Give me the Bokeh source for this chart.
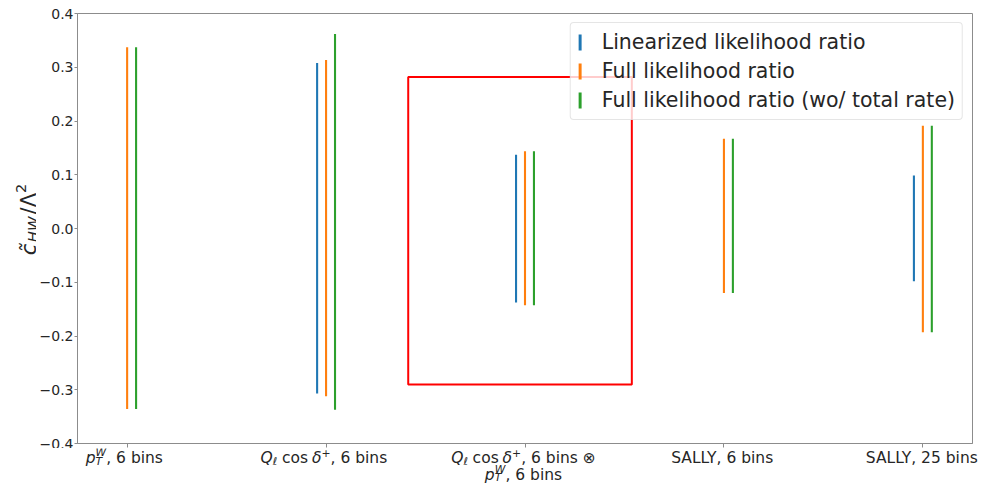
import math
import numpy as np
from bokeh.plotting import figure
from bokeh.layouts import row, column
from bokeh.models import (ColumnDataSource, FixedTicker, Legend, LegendItem,
                          BoxAnnotation, Range1d)
from bokeh.core.properties import value
from bokeh.embed import file_html
from bokeh.resources import INLINE

# ---------------- data ----------------
cat_pos = [0, 1, 2, 3, 4]
series_names = ["Linearized likelihood ratio", "Full likelihood ratio",
                "Full likelihood ratio (wo/ total rate)"]
series_colors = ["#1f77b4", "#ff7f0e", "#2ca02c"]
series_offsets = [-0.045, 0.0, 0.045]

lin_lo = [np.nan, -0.307, -0.1375, np.nan, -0.098]
lin_hi = [np.nan, 0.308, 0.137, np.nan, 0.0985]
full_lo = [-0.336, -0.312, -0.143, -0.120, -0.193]
full_hi = [0.337, 0.3135, 0.1437, 0.167, 0.191]
wo_lo = [-0.336, -0.337, -0.143, -0.120, -0.193]
wo_hi = [0.337, 0.362, 0.1437, 0.167, 0.191]

y_ticks = [-0.4, -0.3, -0.2, -0.1, 0.0, 0.1, 0.2, 0.3, 0.4]
y_tick_labels = ["\u22120.4", "\u22120.3", "\u22120.2", "\u22120.1", "0.0", "0.1", "0.2", "0.3", "0.4"]

# tick label pieces: ("t", text, style), ("sub", text, style), ("sup", text, style),
# ("supsub", sup, sub, style), ("gap", em)
ptw = [("t", "p", "italic"), ("supsub", "W", "T", "italic")]
qcos = [("t", "Q", "italic"), ("sub", "\u2113", "italic"), ("gap", 0.3), ("t", "cos", "normal"),
        ("gap", 0.25), ("t", "\u03b4", "italic"), ("sup", "+", "normal")]
xtick_lines = [
    [ptw + [("t", ", 6 bins", "normal")]],
    [qcos + [("t", ", 6 bins", "normal")]],
    [qcos + [("t", ", 6 bins \u2297", "normal")], ptw + [("t", ", 6 bins", "normal")]],
    [[("t", "SALLY, 6 bins", "normal")]],
    [[("t", "SALLY, 25 bins", "normal")]],
]
ylabel_pieces = [("t", "c\u0303", "italic"), ("gap", 0.08), ("sub", "HW", "italic"), ("gap", 0.1),
                 ("t", "/\u039b", "normal"), ("sup", "2", "normal")]

# highlight box (data coordinates)
hl_left, hl_right, hl_top, hl_bottom = 1.413, 2.537, 0.282, -0.290

# ---------------- geometry ----------------
W_TOTAL, H_TOTAL = 988, 484
YLAB_W = 36          # strip holding the rotated y label
MAIN_BL, MAIN_BR, MAIN_BT, MAIN_BB = 38, 16, 13, 5
MAIN_W = W_TOTAL - YLAB_W
MAIN_H = 448
FRAME_H = MAIN_H - MAIN_BT - MAIN_BB
FRAME_W = MAIN_W - MAIN_BL - MAIN_BR
BOT_H = H_TOTAL - MAIN_H

FONT = "DejaVu Sans"
TXT = "#262626"
SPINE = "#8c8c8c"

x_range = Range1d(-0.2495, 4.2495)
y_range = Range1d(-0.4, 0.4)


def no_align(fig):
    try:
        fig.frame_align = False
        return True
    except Exception:
        return False


p = figure(width=MAIN_W, height=MAIN_H, output_backend="svg", toolbar_location=None,
           x_range=x_range, y_range=y_range,
           min_border_left=MAIN_BL, min_border_right=MAIN_BR,
           min_border_top=MAIN_BT, min_border_bottom=MAIN_BB)
p.title.visible = False
p.xgrid.visible = False
p.ygrid.visible = False
p.outline_line_color = SPINE
p.outline_line_width = 1
p.background_fill_color = "white"
p.border_fill_color = "white"

for ax in (p.xaxis, p.yaxis):
    ax.axis_line_color = SPINE
    ax.major_tick_line_color = SPINE
    ax.major_tick_out = 4
    ax.major_tick_in = 0
    ax.minor_tick_out = 0
    ax.minor_tick_in = 0
    ax.major_label_text_font = FONT
    ax.major_label_text_color = TXT

p.yaxis.ticker = FixedTicker(ticks=y_ticks)
p.yaxis.major_label_overrides = {t: l for t, l in zip(y_ticks, y_tick_labels)}
p.yaxis.major_label_standoff = 1
p.yaxis.major_tick_out = 3
p.yaxis.major_label_text_font_size = "14px"
p.xaxis.ticker = FixedTicker(ticks=cat_pos)
p.xaxis.major_label_overrides = {c: "" for c in cat_pos}
p.xaxis.major_label_text_font_size = "0px"
p.xaxis.major_label_standoff = 0

# ---------------- bars ----------------
renderers = []
for lo, hi, col, off in zip([lin_lo, full_lo, wo_lo], [lin_hi, full_hi, wo_hi],
                            series_colors, series_offsets):
    xs, bots, tops = [], [], []
    for c, l, h in zip(cat_pos, lo, hi):
        if not (np.isnan(l) or np.isnan(h)):
            xs.append(c + off); bots.append(l); tops.append(h)
    src = ColumnDataSource(dict(x=xs, bottom=bots, top=tops))
    r = p.vbar(x="x", bottom="bottom", top="top", width=0.0105, source=src,
               fill_color=col, line_color=col, line_alpha=0, line_width=0)
    renderers.append(r)

legend = Legend(items=[LegendItem(label=n, renderers=[r]) for n, r in zip(series_names, renderers)],
                location="top_right", margin=9, padding=7, spacing=5,
                glyph_width=4, glyph_height=20, label_height=20, label_standoff=20,
                label_text_font=FONT, label_text_font_size="20.5px", label_text_color=TXT,
                border_line_color="#cccccc", border_line_width=1,
                background_fill_color="white", background_fill_alpha=0.8)
try:
    legend.border_radius = 4
except Exception:
    pass
p.add_layout(legend)

p.add_layout(BoxAnnotation(left=hl_left, right=hl_right, top=hl_top, bottom=hl_bottom,
                           fill_alpha=0, line_color="#ff0000", line_alpha=1.0, line_width=2,
                           level="overlay"))

# ---------------- text layout helpers ----------------
EM = {" ": 0.318, ",": 0.318, ".": 0.318, "/": 0.337, "+": 0.838, "\u2297": 0.838,
      "0": 0.636, "1": 0.636, "2": 0.636, "3": 0.636, "4": 0.636, "5": 0.636, "6": 0.636,
      "7": 0.636, "8": 0.636, "9": 0.636, "b": 0.635, "i": 0.278, "n": 0.634, "s": 0.521,
      "S": 0.635, "A": 0.684, "L": 0.557, "Y": 0.611, "c": 0.550, "o": 0.612, "p": 0.635,
      "Q": 0.787, "W": 0.989, "T": 0.611, "H": 0.752, "\u2113": 0.42, "\u03b4": 0.612,
      "\u039b": 0.684, "\u0303": 0.0}


def tw(s, size):
    return sum(EM.get(ch, 0.6) for ch in s) * size


def layout(pieces, size, sub_f=0.22, sup_f=0.38):
    ss = size * 0.7
    sup_dy, sub_dy = sup_f * size, -sub_f * size
    out, x = [], 0.0
    for pc in pieces:
        k = pc[0]
        if k == "t":
            out.append((pc[1], x, 0.0, size, pc[2])); x += tw(pc[1], size)
        elif k == "sup":
            out.append((pc[1], x, sup_dy, ss, pc[2])); x += tw(pc[1], ss)
        elif k == "sub":
            out.append((pc[1], x, sub_dy, ss, pc[2])); x += tw(pc[1], ss)
        elif k == "supsub":
            out.append((pc[1], x, sup_dy, ss, pc[3]))
            out.append((pc[2], x, sub_dy, ss, pc[3]))
            x += max(tw(pc[1], ss), tw(pc[2], ss))
        elif k == "gap":
            x += pc[1] * size
    return out, x


# ---------------- x tick labels (strip below the plot) ----------------
XF = 15.5
BASE = 14.5 - MAIN_BB   # first baseline below the strip top, px
LINE = 16.5
bx, by, bt, bo, bs, bst = [], [], [], [], [], []
for c, lines in zip(cat_pos, xtick_lines):
    for j, pieces in enumerate(lines):
        items, total = layout(pieces, XF, sup_f=0.33)
        for txt, dx, dy, sz, st in items:
            bx.append(c); by.append(-(BASE + j * LINE - dy)); bt.append(txt)
            bo.append(-total / 2 + dx); bs.append(f"{sz:.1f}px"); bst.append(st)

bot = figure(width=MAIN_W, height=BOT_H, output_backend="svg", toolbar_location=None,
             y_range=Range1d(-BOT_H, 0), x_axis_location=None, y_axis_location=None,
             min_border_top=0, min_border_bottom=0)
if no_align(bot):
    no_align(p)
    span = x_range.end - x_range.start
    bot.x_range = Range1d(x_range.start - span * MAIN_BL / FRAME_W,
                          x_range.end + span * MAIN_BR / FRAME_W)
    bot.min_border_left = 0
    bot.min_border_right = 0
else:
    bot.x_range = x_range
    bot.min_border_left = MAIN_BL
    bot.min_border_right = MAIN_BR
bot.title.visible = False
bot.grid.visible = False
bot.outline_line_color = None
bot.background_fill_color = "white"
bot.border_fill_color = "white"
bot.text(x="x", y="y", text="text", x_offset="xo", text_font_size="size", text_font_style="style",
         text_font=value(FONT), text_color=TXT, text_align="left", text_baseline="alphabetic",
         source=ColumnDataSource(dict(x=bx, y=by, text=bt, xo=bo, size=bs, style=bst)))

# ---------------- y label (strip left of the plot, sharing the y range) ----------------
YF = 21
YBASE = 28
px_to_data = (y_range.end - y_range.start) / FRAME_H
items, total = layout(ylabel_pieces, YF, sub_f=0.18)
lx, ly, lt, ls, lst = [], [], [], [], []
for txt, dx, dy, sz, st in items:
    lx.append(YBASE - dy); ly.append((-total / 2 + 9 + dx) * px_to_data); lt.append(txt)
    ls.append(f"{sz:.1f}px"); lst.append(st)

yl = figure(width=YLAB_W, height=H_TOTAL, output_backend="svg", toolbar_location=None,
            x_range=Range1d(0, YLAB_W), y_range=y_range,
            min_border_left=0, min_border_right=0, min_border_top=MAIN_BT,
            min_border_bottom=H_TOTAL - MAIN_BT - FRAME_H,
            x_axis_location=None, y_axis_location=None)
no_align(yl)
yl.title.visible = False
yl.grid.visible = False
yl.outline_line_color = None
yl.background_fill_color = "white"
yl.border_fill_color = "white"
yl.text(x="x", y="y", text="text", text_font_size="size", text_font_style="style",
        text_font=value(FONT), text_color=TXT, text_align="left", text_baseline="alphabetic",
        angle=math.pi / 2, source=ColumnDataSource(dict(x=lx, y=ly, text=lt, size=ls, style=lst)))

layout_all = row(yl, column(p, bot, spacing=0), spacing=0)
open("out.html", "w").write(file_html(layout_all, INLINE))
